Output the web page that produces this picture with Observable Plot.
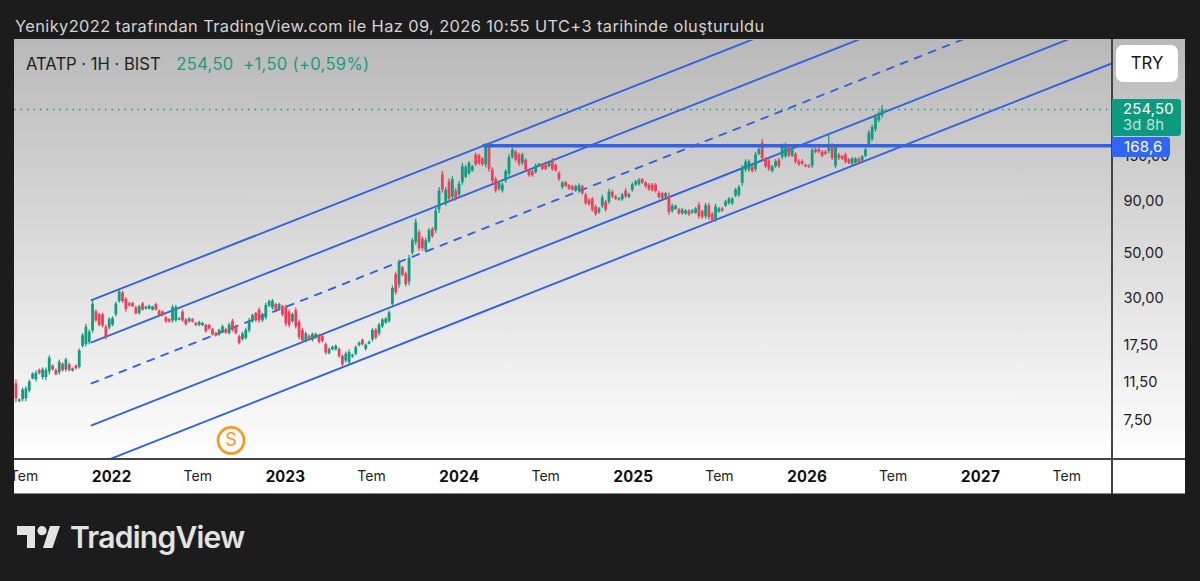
<!DOCTYPE html>
<html lang="tr">
<head>
<meta charset="utf-8">
<script src="https://cdn.jsdelivr.net/npm/d3@7"></script>
<script src="https://cdn.jsdelivr.net/npm/@observablehq/plot@0.6"></script>
<style>
html,body{margin:0;padding:0;background:#1c1c1c;width:1200px;height:581px;overflow:hidden;font-family:Inter,"Noto Sans",sans-serif}
.abs{position:absolute}
#panel{left:14px;top:39px;width:1171px;height:420px;background:linear-gradient(#b9b9b9,#fefefe)}
#strip{left:14px;top:459px;width:1171px;height:35px;background:#fff;border-bottom:1px solid #8a8a8a;box-sizing:border-box}
#chart{left:0;top:0;z-index:1}
#mask{left:0;top:0;width:14px;height:581px;background:#1c1c1c;z-index:2}
#hline{left:14px;top:458px;width:1171px;height:2px;background:#444;z-index:2}
#vline{left:1111px;top:39px;width:2px;height:455px;background:#444;z-index:2}
#head{left:15px;top:16px;font-size:16.4px;line-height:20px;color:#d4d4d4;letter-spacing:.395px;white-space:nowrap;z-index:2}
#legend{left:26px;top:54px;font-size:16.6px;line-height:20px;color:#222;white-space:nowrap;z-index:2}
#legend .g{color:#1c9a7e;margin-left:11px;letter-spacing:.3px}
#legend .g2{color:#1c9a7e;margin-left:5px;letter-spacing:.3px}
#try{left:1116px;top:45px;width:62px;height:37px;background:#fff;border-radius:7px;color:#161616;font-size:16.8px;line-height:37px;text-align:center;z-index:2}
#gbadge{left:1112px;top:99px;width:69px;height:37px;background:#0d9a7f;border-radius:0 3px 3px 0;font-size:14.8px;line-height:16px;color:#fff;z-index:2;box-sizing:border-box;padding:2px 0 0 11px;letter-spacing:.2px}
#gbadge span{color:#b8e6da;display:block}
#bbadge{left:1112px;top:137px;width:58px;height:20px;background:#2f66f5;border-radius:0 3px 3px 0;font-size:15px;line-height:20px;color:#fff;z-index:2;box-sizing:border-box;padding-left:12px;letter-spacing:.2px}
#logo{left:16px;top:524px;z-index:2}
#brand{left:70px;top:519px;font-size:30px;line-height:36px;font-weight:600;color:#e3e3e3;letter-spacing:-.75px;z-index:2}
</style>
</head>
<body>
<div id="panel" class="abs"></div>
<div id="strip" class="abs"></div>
<div id="chart" class="abs"></div>
<div id="mask" class="abs"></div>
<div id="hline" class="abs"></div>
<div id="vline" class="abs"></div>
<div id="head" class="abs">Yeniky2022 tarafından TradingView.com ile Haz 09, 2026 10:55 UTC+3 tarihinde oluşturuldu</div>
<div id="legend" class="abs">ATATP · 1H · BIST <span class="g">254,50</span> <span class="g2">+1,50 (+0,59%)</span></div>
<div id="try" class="abs">TRY</div>
<div id="gbadge" class="abs">254,50<span>3d 8h</span></div>
<div id="bbadge" class="abs">168,6</div>
<svg id="logo" class="abs" width="50" height="26" viewBox="0 0 50 26">
  <path d="M1 2H19V24H11V11H1Z" fill="#e3e3e3"/>
  <circle cx="26" cy="6.7" r="4.6" fill="#e3e3e3"/>
  <path d="M34 2H44L36.5 24H27Z" fill="#e3e3e3"/>
</svg>
<script>
const startWeek = "2021-06-14";
const highs = [
11.88,9.57,10.85,10.98,11.88,12.85,13.15,13.45,13.6,13.6,
15.6,14.07,13.45,14.89,14.4,15.2,14.4,13.6,14.07,16.85,
20.1,22.3,20.9,29.3,26.2,25.3,25.3,22.1,24.0,24.3,
28.6,32.8,32.5,30.2,28.6,28.6,27.4,27.7,28.6,27.4,
27.7,27.4,28.3,26.2,25.9,24.3,23.8,27.7,27.7,24.0,
26.2,23.8,24.0,23.8,22.8,23.1,22.8,22.3,22.3,21.3,
20.4,21.1,22.1,21.3,22.6,23.6,22.1,19.75,20.4,21.3,
23.8,25.0,25.6,26.8,25.3,28.3,29.3,29.6,28.3,28.3,
27.7,27.7,26.2,25.3,26.8,23.4,21.3,20.4,19.75,20.2,
20.2,19.95,19.75,18.05,17.05,17.45,17.65,17.05,15.75,16.3,
16.67,15.9,17.45,18.25,18.85,17.85,18.45,21.3,21.3,22.6,
23.8,24.0,25.9,34.4,40.3,46.1,42.9,40.3,48.8,59.0,
73.3,64.7,59.9,59.2,66.0,66.8,83.0,105,126,105,
116,119,104,112.5,138,135,141,135,155,153,
147.5,173,171,131.5,118,112.5,111,129,153,164,
160,155,155,146,129,127.6,137,138,138,137,
141,146,137,126,112.5,112.5,109,107.7,107.7,110,
107.7,98.5,92.7,93.8,85.9,83.9,96.2,90.9,103,101.8,
96.2,93.8,98.5,104,98.5,111,113.9,116.5,116.5,112.5,
110,110,110,100.6,99.5,99.5,98.5,87,85.9,83,
83,81.9,81.9,81.9,83.9,88.9,81.2,87.9,87.9,79.3,
87,83.9,83.9,90.9,93.8,94,104,107.7,135,144,
144,135,156.5,164,181,147.5,144,135,144,146,
172,174,169,164,156,144,144,137,136,164,
164,164,160,160,191.5,173,169,155,151.2,155,
146,147.5,147.5,147.5,151.2,164,200.6,214,240,248,266];
const lows = [
9.18,9.17,9.27,9.27,10.25,11.88,11.6,12.57,11.88,11.75,
12.57,13.15,12.45,12.57,13.0,13.0,13.0,13.0,13.3,13.45,
17.05,17.25,17.65,20.1,22.8,21.7,21.4,18.65,20.9,21.7,
24.3,28.3,28.3,25.6,27.2,27.0,24.8,24.8,25.9,26.2,
26.2,25.9,25.9,24.3,24.3,22.6,22.6,22.6,22.8,23.2,
22.8,21.9,22.6,22.6,21.7,21.7,21.7,20.2,20.9,19.5,
19.3,19.5,20.2,19.95,19.75,20.4,19.75,17.65,18.45,18.65,
20.2,22.6,22.8,22.6,22.8,23.4,27.0,26.2,25.6,26.2,
24.3,21.7,21.4,22.6,21.1,18.65,18.05,18.05,18.45,18.25,
18.85,17.85,18.05,15.75,15.75,16.5,16.5,15.2,13.75,14.4,
14.07,15.2,15.6,17.25,17.45,16.5,17.65,18.25,18.65,19.55,
21.3,22.3,22.6,27.4,31.0,33.6,38.2,34.0,34.4,48.8,
54.6,51.0,51.0,50.0,55.8,59.2,62.4,78.5,98.5,85,
88.5,90.9,90,93.9,107.7,116,120.6,125,133.5,135,
133.5,131.5,125,110,98.5,100.6,98.5,110,118,145,
140,133.5,135,125,118,118,122,133.5,127.6,127.6,
131.5,126,125,112.5,103,105,101.8,100.6,99.5,98.5,
96.2,85.9,85,79.3,75.8,77.6,82.9,79.3,86.8,92.7,
90.9,89.9,89.9,92.7,92.7,99.5,106.5,106.5,109,104,
100.6,99.5,98.5,91.9,90.9,92.7,76.7,78.5,81.2,76.7,
76.7,76.7,75.8,77.6,77.6,73.3,73.3,73.3,72.5,70.9,
70.9,78.5,79.3,83.9,85.9,85.5,93.8,93.8,106.5,125,
125,124,125,151.2,142.9,130.5,126,124,130.5,130.5,
144,146,147.5,147.5,137,133.5,135,131.5,130.5,130.5,
154,154,147.5,151.2,154,142.9,130.5,142.9,142.9,137,
136,135,137,137,140,147.5,166,177,197,219,231];
const opens = [
11.35,9.3,9.5,9.6,10.5,12.0,11.9,13.2,12.2,12.2,
13.0,13.9,13.2,12.9,14.2,13.3,14.1,13.1,13.9,13.7,
17.4,17.7,18.1,20.7,25.7,24.9,24.8,21.6,21.4,22.1,
24.8,28.9,31.8,29.6,28.2,28.2,26.9,25.2,28.1,26.5,
26.5,26.2,27.9,25.9,25.6,24.0,23.5,23.2,23.2,23.4,
25.6,23.4,22.9,23.5,22.5,22.0,22.0,22.0,22.0,21.0,
20.1,19.8,20.5,21.0,20.1,23.0,21.7,19.4,18.8,19.0,
20.7,23.0,25.2,26.2,23.2,24.0,27.4,26.8,27.9,26.5,
27.2,27.0,25.6,23.0,26.0,22.8,20.8,18.4,19.5,18.6,
19.1,19.6,19.4,17.7,16.0,16.7,16.7,16.8,15.5,14.7,
14.4,15.4,15.9,17.5,18.6,16.8,17.8,18.7,20.9,20.0,
21.7,22.6,23.0,28.0,39.2,34.8,42.2,39.4,36.0,50.0,
56.5,63.0,58.5,51.2,57.0,65.5,64.5,81.5,121,87,
112,94,101,96.5,111,118,123,126.5,152,151,
145,136,165,128,115,103,101,113,122,148,
157,152,138,143,127,126,125,134.5,136,135,
133,143,135,123,105,111,107.5,106,101,101,
106,96.5,91,92,84,79,85,89,89,99.5,
94.5,91,91.5,101,94,101.5,108,108.5,115,110.5,
108,108,108,98.5,98,94,95,80,82,81.5,
78,78,80.5,78.5,78.5,86,80,75.5,85.5,77.5,
73,79.5,82.5,85,87.5,87.5,95.5,96,110,128,
128,133,129,153,174,145,142,126,133,143,
148,149,165,150,153,141,141,135,134,134,
161,162,157,157,158,165,134,152,149,152,
144,137,139,145,142,150,171,181,203,224,237];
const closes = [
9.58,9.5,10.6,10.7,11.6,12.7,12.8,12.75,13.3,13.2,
15.2,13.3,12.6,14.5,13.2,14.9,13.2,13.45,13.45,16.5,
19.6,21.6,20.4,28.0,23.2,22.0,21.9,19.2,23.5,23.8,
28.0,32.2,28.9,26.4,27.5,27.3,25.1,27.2,26.2,27.1,
27.4,27.1,26.2,24.6,24.6,22.9,22.9,27.0,27.0,23.8,
23.2,22.2,23.7,22.9,22.0,22.8,22.5,20.5,21.1,19.8,
19.5,20.8,21.7,20.2,22.1,20.8,20.1,18.0,20.0,20.8,
23.2,24.6,23.2,23.2,24.9,27.6,28.9,29.0,26.0,27.9,
24.8,22.4,22.0,24.9,21.7,19.2,18.5,20.0,18.8,19.9,
19.9,18.2,18.4,16.1,16.8,17.2,17.4,15.5,14.1,15.9,
16.2,15.7,17.1,18.0,17.7,17.6,18.2,20.8,19.1,22.1,
23.4,23.7,25.4,33.5,31.9,44.5,38.9,35.0,47.0,57.5,
70.5,52.5,52.5,57.5,64.5,60.3,80.5,101,102,102,
92,115,92.5,109,133,132,138,133,136,137,
136,167,129,113,101,110,108,126,148,161,
143,137,152,128,120,120,134,137,129,129,
139,129,127,115,110.5,106.5,103,102,106,107,
98,87.5,86.5,81.5,77.5,82.5,93.5,81.5,100,94.5,
92,92.5,96.5,94.5,97,108.5,112,114,110.5,106,
102.5,101.5,100.5,94,92.5,98,79,85,85,78,
81.5,80.5,77,80.5,82.5,75.5,75,85.5,74.5,72.5,
84.5,82.5,80.5,89,92,92,102,105,130,140,
141,126,152,162,146,133,129,133,141,133,
168,170,150,161,140,136,137,133,132,160,
156,157,150,153,165,146,165,146,145,140,
138,145,145,139,149,161,195,208,232,243,254.5];

const channelDates = ["2021-11-20", "2027-10-05"];
const channelUpper = [29.3, 2811];
const channelInnerUpper = [18.16, 1749];
const channelMid = [11.41, 1098];
const channelInnerLower = [7.09, 687];
const channelLower = [4.46, 430];
const levelDates = ["2024-02-22", "2027-10-05"];
const levelPrice = 168.6;
const lastPrice = 254.5;
const xDomain = ["2021-06-11", "2027-10-05"];
const yDomain = [4.82, 556];
const yearTicks = ["2022-01-01","2023-01-01","2024-01-01","2025-01-01","2026-01-01","2027-01-01"];
const julyTicks = ["2021-07-01","2022-07-01","2023-07-01","2024-07-01","2025-07-01","2026-07-01","2027-07-01"];
const priceTicks = [7.5, 11.5, 17.5, 30, 50, 90, 150];
const markerDate = "2022-09-09";
const markerPrice = 5.98;

const GREEN = "#119b80", RED = "#ee4058", BLUE = "#3163dc";
const D = s => new Date(s + "T00:00:00Z");
const t0 = D(startWeek);
const candles = closes.map((c, i) => ({
  date: d3.utcDay.offset(t0, 7 * i),
  open: opens[i], high: highs[i], low: lows[i], close: c
}));
const col = d => d.close >= d.open ? GREEN : RED;
const channel = (vals) => channelDates.map((d, i) => ({x: D(d), y: vals[i]}));
const channelLine = (vals, extra = {}) => Plot.line(channel(vals), {x: "x", y: "y", stroke: BLUE, strokeWidth: 1.9, clip: true, ...extra});

const chart = Plot.plot({
  width: 1200, height: 581,
  marginLeft: 14, marginRight: 88, marginTop: 40, marginBottom: 122,
  style: {background: "transparent", fontFamily: "Inter, 'Noto Sans', sans-serif"},
  x: {type: "utc", domain: xDomain.map(D)},
  y: {type: "log", domain: yDomain, axis: null},
  marks: [
    Plot.ruleY([lastPrice], {stroke: GREEN, strokeWidth: 1.5, strokeDasharray: "1.5 5", clip: true}),
    channelLine(channelUpper),
    channelLine(channelInnerUpper),
    channelLine(channelMid, {strokeDasharray: "7 8"}),
    channelLine(channelInnerLower),
    channelLine(channelLower),
    Plot.ruleX(candles, {x: "date", y1: "low", y2: "high", stroke: col, strokeWidth: 1.2, clip: true}),
    Plot.ruleX(candles, {x: "date", y1: "open", y2: "close", stroke: col, strokeWidth: 2.8, clip: true}),
    Plot.line(levelDates.map(d => ({x: D(d), y: levelPrice})), {x: "x", y: "y", stroke: "#3262e6", strokeWidth: 3.6, clip: true}),
    Plot.dot([{x: D(markerDate), y: markerPrice}], {x: "x", y: "y", r: 13, stroke: "#f59a23", strokeWidth: 2.8, fill: "none"}),
    Plot.text([{x: D(markerDate), y: markerPrice}], {x: "x", y: "y", text: () => "S", fill: "#f59a23", fontSize: 18}),
    Plot.axisX({ticks: julyTicks.map(D), tickFormat: () => "Tem", tickSize: 0, tickPadding: 12, fontSize: 14, color: "#222", label: null}),
    Plot.axisX({ticks: yearTicks.map(D), tickFormat: d3.utcFormat("%Y"), tickSize: 0, tickPadding: 12, fontSize: 15.4, fontWeight: 700, color: "#111", label: null}),
    Plot.text(priceTicks, {y: d => d, text: d => d.toFixed(2).replace(".", ","), frameAnchor: "right", textAnchor: "start", dx: 11, fontSize: 14.6, fill: "#222"})
  ]
});
document.getElementById("chart").appendChild(chart);
</script>
<div id="brand" class="abs">TradingView</div>
</body>
</html>
